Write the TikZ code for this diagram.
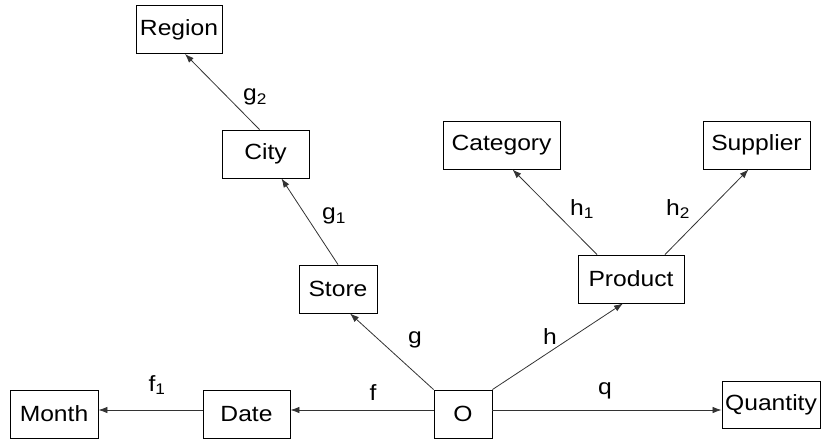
\documentclass[tikz,border=0pt]{standalone}
\usepackage{fontspec}
\setmainfont[FakeStretch=1.12]{Liberation Sans}
\usetikzlibrary{arrows.meta, calc, positioning}

\begin{document}
\begin{tikzpicture}[x=1pt, y=-1pt, font=\fontsize{22}{25}\selectfont,
    ent/.style={draw, line width=0.9pt, minimum height=48pt, inner sep=2pt},
    conn/.style={draw=black!80, line width=0.8pt, -{Latex[length=9pt, width=6.5pt]}},
    lbl/.style={inner sep=1pt}]
    \useasboundingbox (0,0) rectangle (821,439);

    \node[ent, minimum width=86pt] (region) at (179,29.5) {Region};
    \node[ent, minimum width=87pt] (city) at (265.5,154) {City};
    \node[ent, minimum width=78pt] (store) at (338,289) {Store};
    \node[ent, minimum width=117pt] (category) at (501.5,145) {Category};
    \node[ent, minimum width=107pt] (supplier) at (756.5,145) {Supplier};
    \node[ent, minimum width=106pt] (product) at (631,279) {Product};
    \node[ent, minimum width=58pt] (o) at (463,414) {O};
    \node[ent, minimum width=87pt] (date) at (246.5,414) {Date};
    \node[ent, minimum width=88pt] (month) at (54,414) {Month};
    \node[ent, minimum width=98pt, minimum height=47pt] (quantity) at (771,404.5) {Quantity};

    \draw[conn] (o.north west) -- ([xshift=12pt]store.south);
    \draw[conn] (store.north) -- ([xshift=16pt]city.south);
    \draw[conn] ([xshift=-6pt]city.north) -- ([xshift=6pt]region.south);
    \draw[conn] (o.north east) -- ([xshift=-8pt]product.south);
    \draw[conn] ([xshift=-34pt]product.north) -- ([xshift=11pt]category.south);
    \draw[conn] ([xshift=34pt]product.north) -- ([xshift=-8pt]supplier.south);
    \draw[conn] ([yshift=4pt]o.west) -- ([yshift=4pt]date.east);
    \draw[conn] ([yshift=4pt]date.west) -- ([yshift=4pt]month.east);
    \draw[conn] ([yshift=4pt]o.east) -- ([yshift=4pt]o.east -| quantity.west);

    \node[lbl] (lg2) at (255,97) {g\textsubscript{2}};
    \node[lbl] (lg1) at (334,216) {g\textsubscript{1}};
    \node[lbl] (lg) at (415,340) {g};
    \node[lbl] (lh) at (550,337) {h};
    \node[lbl] (lh1) at (582,209) {h\textsubscript{1}};
    \node[lbl] (lh2) at (678,209) {h\textsubscript{2}};
    \node[lbl] (lf) at (373,393) {f};
    \node[lbl] (lf1) at (157,385) {f\textsubscript{1}};
    \node[lbl] (lq) at (605,391) {q};
\end{tikzpicture}
\end{document}
